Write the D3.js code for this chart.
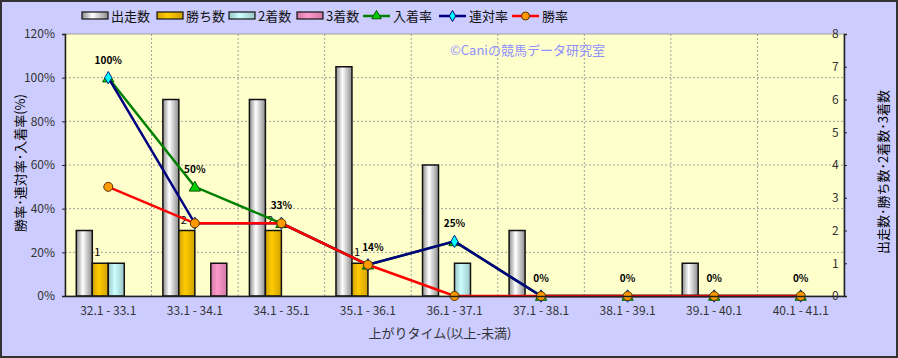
<!DOCTYPE html>
<html>
<head>
<meta charset="utf-8">
<script src="https://cdn.jsdelivr.net/npm/d3@7"></script>
<style>
  body { margin: 0; background: #fff; }
  svg text { font-family: "Noto Sans CJK JP", "DejaVu Sans", sans-serif; }
</style>
</head>
<body>
<div id="chart"></div>
<script>
// data
const categories = ["32.1 - 33.1", "33.1 - 34.1", "34.1 - 35.1", "35.1 - 36.1", "36.1 - 37.1",
  "37.1 - 38.1", "38.1 - 39.1", "39.1 - 40.1", "40.1 - 41.1"];
const runs = [2, 6, 6, 7, 4, 2, 0, 1, 0];        // 出走数
const wins = [1, 2, 2, 1, 0, 0, 0, 0, 0];        // 勝ち数
const seconds = [1, 0, 0, 0, 1, 0, 0, 0, 0];     // 2着数
const thirds = [0, 1, 0, 0, 0, 0, 0, 0, 0];      // 3着数
const placeRate = [100, 50, 33.3, 14.3, 25, 0, 0, 0, 0];   // 入着率
const rentaiRate = [100, 33.3, 33.3, 14.3, 25, 0, 0, 0, 0]; // 連対率
const winRate = [50, 33.3, 33.3, 14.3, 0, 0, 0, 0, 0];      // 勝率
const placeLabels = ["100%", "50%", "33%", "14%", "25%", "0%", "0%", "0%", "0%"];
const leftTicks = [0, 20, 40, 60, 80, 100, 120];
const rightTicks = [0, 1, 2, 3, 4, 5, 6, 7, 8];

const W = 898, H = 358;
const m = { left: 65, right: 844, top: 34, bottom: 296 };

const svg = d3.select("#chart").append("svg").attr("width", W).attr("height", H);
const defs = svg.append("defs");

function grad(id, edge, mid) {
  const g = defs.append("linearGradient").attr("id", id)
    .attr("x1", "0%").attr("x2", "100%").attr("y1", "0%").attr("y2", "0%");
  g.append("stop").attr("offset", "0%").attr("stop-color", edge);
  g.append("stop").attr("offset", "40%").attr("stop-color", mid);
  g.append("stop").attr("offset", "100%").attr("stop-color", edge);
}
grad("gRun", "#8c8c8c", "#ffffff");
grad("gWin", "#d0a000", "#ffcc00");
grad("gSec", "#9cc4c4", "#ccffff");
grad("gThird", "#d07aa4", "#ff99cc");

const barSeries = [
  { name: "出走数", values: runs, fill: "url(#gRun)" },
  { name: "勝ち数", values: wins, fill: "url(#gWin)" },
  { name: "2着数", values: seconds, fill: "url(#gSec)" },
  { name: "3着数", values: thirds, fill: "url(#gThird)" }
];
const lineSeries = [
  { name: "入着率", values: placeRate, color: "#008000", marker: "triangle", mfill: "#00cc00", mstroke: "#005500" },
  { name: "連対率", values: rentaiRate, color: "#000080", marker: "diamond", mfill: "#00ffff", mstroke: "#000080" },
  { name: "勝率", values: winRate, color: "#ff0000", marker: "circle", mfill: "#ff9900", mstroke: "#553300" }
];

// background
svg.append("rect").attr("x", 1).attr("y", 1).attr("width", W - 2).attr("height", H - 2)
  .attr("fill", "#ccccff").attr("stroke", "#333").attr("stroke-width", 2);
svg.append("rect").attr("x", m.left).attr("y", m.top)
  .attr("width", m.right - m.left).attr("height", m.bottom - m.top)
  .attr("fill", "#ffffcc").attr("stroke", "#a0a0a0");

const x = d3.scaleBand().domain(categories).range([m.left, m.right]);
const sub = d3.scaleBand().domain(barSeries.map(d => d.name))
  .range([11.3, x.bandwidth() - 11.3]);
const yL = d3.scaleLinear().domain([0, 120]).range([m.bottom, m.top]);
const yR = d3.scaleLinear().domain([0, 8]).range([m.bottom, m.top]);

// grid
svg.append("g").selectAll("line").data(leftTicks.slice(1, -1)).join("line")
  .attr("x1", m.left).attr("x2", m.right)
  .attr("y1", d => yL(d)).attr("y2", d => yL(d))
  .attr("stroke", "#a0a0a0").attr("stroke-dasharray", "2,2");
svg.append("g").selectAll("line").data(categories.slice(1)).join("line")
  .attr("x1", d => x(d)).attr("x2", d => x(d))
  .attr("y1", m.top).attr("y2", m.bottom)
  .attr("stroke", "#a0a0a0").attr("stroke-dasharray", "2,2");

// watermark
svg.append("text").attr("x", 450).attr("y", 55).text("©Caniの競馬データ研究室")
  .attr("fill", "#8f8fff").attr("font-size", "13px");

// bars
barSeries.forEach(s => {
  svg.append("g").selectAll("rect").data(s.values.map((v, i) => ({ v, c: categories[i] })))
    .join("rect")
    .filter(d => d.v > 0)
    .attr("x", d => x(d.c) + sub(s.name))
    .attr("y", d => yR(d.v))
    .attr("width", sub.bandwidth())
    .attr("height", d => yR(0) - yR(d.v))
    .attr("fill", s.fill)
    .attr("stroke", "#111").attr("stroke-width", 1.5);
});

// win count labels
svg.append("g").selectAll("text").data(wins.map((v, i) => ({ v, c: categories[i] })).filter(d => d.v > 0))
  .join("text")
  .attr("x", d => x(d.c) + sub("勝ち数") + sub.bandwidth() / 2 - 3)
  .attr("y", d => yR(d.v) - 7)
  .attr("text-anchor", "middle").attr("font-size", "11px").attr("fill", "#000")
  .text(d => d.v);

// lines
const cx = c => x(c) + x.bandwidth() / 2;
lineSeries.forEach(s => {
  const pts = s.values.map((v, i) => [cx(categories[i]), yL(v)]);
  svg.append("path").attr("d", d3.line()(pts))
    .attr("fill", "none").attr("stroke", s.color).attr("stroke-width", 2.5);
  const g = svg.append("g");
  pts.forEach(p => {
    if (s.marker === "triangle") {
      g.append("path").attr("d", d3.symbol(d3.symbolTriangle, 55)())
        .attr("transform", `translate(${p[0]},${p[1] + 1})`)
        .attr("fill", s.mfill).attr("stroke", s.mstroke);
    } else if (s.marker === "diamond") {
      g.append("path").attr("d", d3.symbol(d3.symbolDiamond, 45)())
        .attr("transform", `translate(${p[0]},${p[1]})`)
        .attr("fill", s.mfill).attr("stroke", s.mstroke).attr("stroke-width", 0.8);
    } else {
      g.append("circle").attr("cx", p[0]).attr("cy", p[1]).attr("r", 4.5)
        .attr("fill", s.mfill).attr("stroke", s.mstroke);
    }
  });
});

// 入着率 labels (the 14% one sits a little right of its point, as in the source)
svg.append("g").selectAll("text").data(placeRate.map((v, i) => ({ v, c: categories[i], t: placeLabels[i], i })))
  .join("text")
  .attr("x", d => cx(d.c) + (d.i === 3 ? 5 : 0))
  .attr("y", d => yL(d.v) - 14)
  .attr("text-anchor", "middle").attr("font-size", "10px").attr("font-weight", "bold")
  .attr("fill", "#000").text(d => d.t);

// axes
const axisL = svg.append("g").attr("transform", `translate(${m.left},0)`)
  .call(d3.axisLeft(yL).tickValues(leftTicks).tickFormat(d => d + "%").tickSize(3));
const axisR = svg.append("g").attr("transform", `translate(${m.right},0)`)
  .call(d3.axisLeft(yR).tickValues(rightTicks).tickSize(-3).tickPadding(12));
axisR.selectAll("text").attr("text-anchor", "start");
const axisB = svg.append("g").attr("transform", `translate(0,${m.bottom})`)
  .call(d3.axisBottom(x).tickSize(0).tickPadding(10));
[axisL, axisR, axisB].forEach(a => {
  a.selectAll("text").attr("font-size", "12px").attr("fill", "#333");
  a.selectAll("line").attr("stroke", "#222");
  a.select(".domain").attr("stroke", "#222").attr("stroke-width", 1.5);
});
axisL.selectAll("text").attr("x", -10);

// axis titles
svg.append("text").attr("transform", "translate(25,163) rotate(-90)")
  .attr("text-anchor", "middle").attr("font-size", "13px").attr("fill", "#000")
  .text("勝率･連対率･入着率(%)");
svg.append("text").attr("transform", "translate(888,172) rotate(-90)")
  .attr("text-anchor", "middle").attr("font-size", "13px").attr("fill", "#000")
  .text("出走数･勝ち数･2着数･3着数");
svg.append("text").attr("x", 440).attr("y", 338)
  .attr("text-anchor", "middle").attr("font-size", "13px").attr("fill", "#333")
  .text("上がりタイム(以上-未満)");

// legend
const legend = svg.append("g");
const legendBars = [
  { x: 82, s: barSeries[0] }, { x: 157, s: barSeries[1] },
  { x: 229, s: barSeries[2] }, { x: 297, s: barSeries[3] }
];
legendBars.forEach(d => {
  legend.append("rect").attr("x", d.x).attr("y", 12).attr("width", 26).attr("height", 7)
    .attr("fill", d.s.fill).attr("stroke", "#111").attr("stroke-width", 1.2);
  legend.append("text").attr("x", d.x + 29).attr("y", 21).attr("font-size", "13px")
    .attr("fill", "#111").text(d.s.name);
});
const legendLines = [{ x: 363, s: lineSeries[0] }, { x: 439, s: lineSeries[1] }, { x: 512, s: lineSeries[2] }];
legendLines.forEach(d => {
  legend.append("line").attr("x1", d.x).attr("x2", d.x + 27).attr("y1", 16).attr("y2", 16)
    .attr("stroke", d.s.color).attr("stroke-width", 2.5);
  const mx = d.x + 13.5;
  if (d.s.marker === "triangle") {
    legend.append("path").attr("d", d3.symbol(d3.symbolTriangle, 40)())
      .attr("transform", `translate(${mx},16)`).attr("fill", d.s.mfill).attr("stroke", d.s.mstroke);
  } else if (d.s.marker === "diamond") {
    legend.append("path").attr("d", d3.symbol(d3.symbolDiamond, 35)())
      .attr("transform", `translate(${mx},16)`).attr("fill", d.s.mfill).attr("stroke", d.s.mstroke);
  } else {
    legend.append("circle").attr("cx", mx).attr("cy", 16).attr("r", 4)
      .attr("fill", d.s.mfill).attr("stroke", d.s.mstroke);
  }
  legend.append("text").attr("x", d.x + 30).attr("y", 21).attr("font-size", "13px")
    .attr("fill", "#111").text(d.s.name);
});
</script>
</body>
</html>
